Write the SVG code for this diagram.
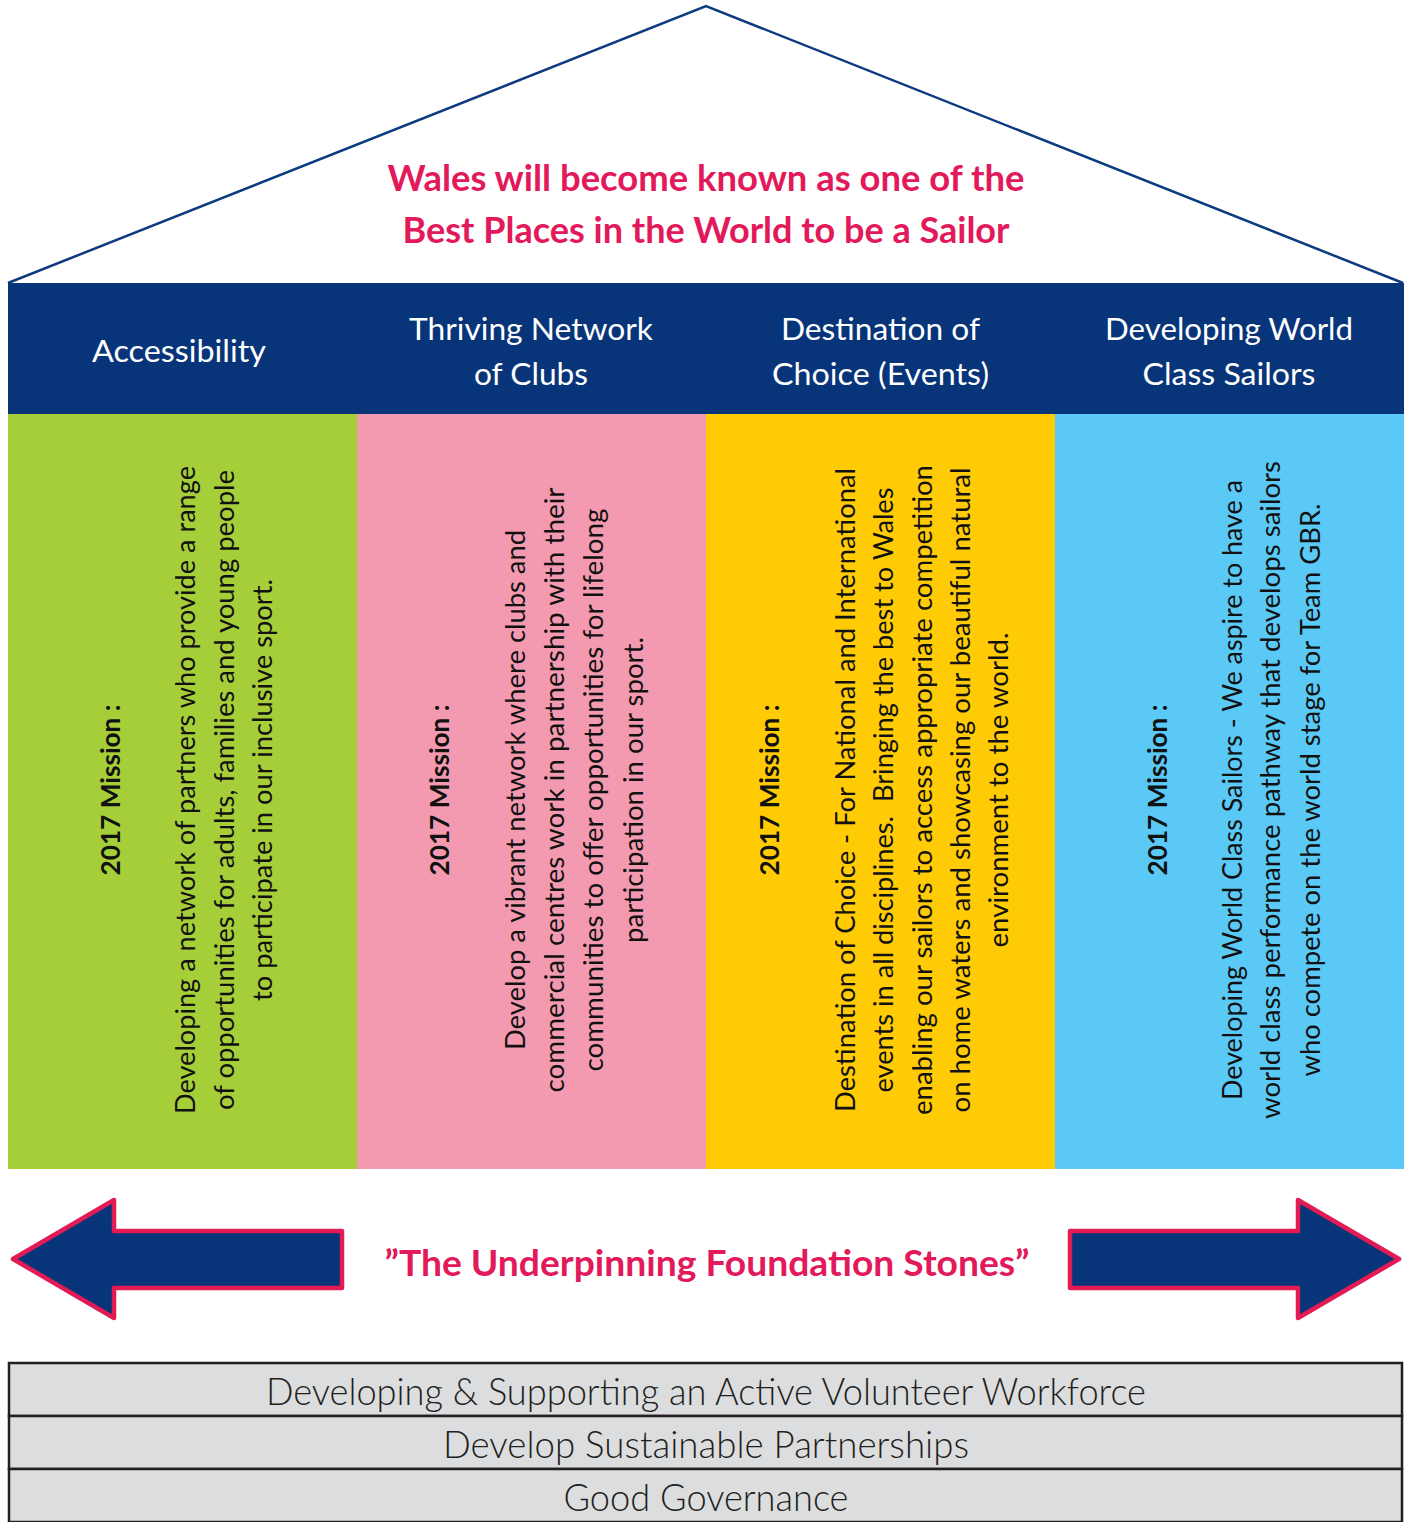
<svg xmlns="http://www.w3.org/2000/svg" width="1407" height="1522" viewBox="0 0 1407 1522">
<style>
.title{font-family:Lato,"Liberation Sans",sans-serif;font-weight:700;fill:#E2195A;text-anchor:middle}
.head{font-family:Lato,"Liberation Sans",sans-serif;font-size:31px;fill:#FFFFFF;text-anchor:middle}
.body{font-family:Lato,"Liberation Sans",sans-serif;font-size:27px;fill:#111111;text-anchor:middle}
.mis{font-family:Lato,"Liberation Sans",sans-serif;font-size:26px;font-weight:700;fill:#111111;text-anchor:middle}
.found{font-family:Lato,"Liberation Sans",sans-serif;font-size:37px;font-weight:300;fill:#231F20;text-anchor:middle}
.bar{fill:#DCDDDF;stroke:#231F20;stroke-width:2.5}
.arrow{fill:#08357A;stroke:#E31B54;stroke-width:4.5;stroke-linejoin:round}
</style>
<rect width="1407" height="1522" fill="#FFFFFF"/>
<g id="roof">
<polyline points="8,283 706,6 1403,283" fill="none" stroke="#0B3A80" stroke-width="2.5"/>
<text class="title" x="706" y="191" font-size="36" textLength="637" lengthAdjust="spacingAndGlyphs">Wales will become known as one of the</text>
<text class="title" x="706" y="243" font-size="36" textLength="607" lengthAdjust="spacingAndGlyphs">Best Places in the World to be a Sailor</text>
</g>
<g id="header">
<rect x="8" y="283" width="1396" height="131" fill="#08357A"/>
<text class="head" x="179" y="362" textLength="174" lengthAdjust="spacingAndGlyphs">Accessibility</text>
<text class="head" x="531" y="340" textLength="244" lengthAdjust="spacingAndGlyphs">Thriving Network</text>
<text class="head" x="531" y="385" textLength="114" lengthAdjust="spacingAndGlyphs">of Clubs</text>
<text class="head" x="880.5" y="340" textLength="199" lengthAdjust="spacingAndGlyphs">Destination of</text>
<text class="head" x="880.5" y="385" textLength="217" lengthAdjust="spacingAndGlyphs">Choice (Events)</text>
<text class="head" x="1229" y="340" textLength="248" lengthAdjust="spacingAndGlyphs">Developing World</text>
<text class="head" x="1229" y="385" textLength="173" lengthAdjust="spacingAndGlyphs">Class Sailors</text>
</g>
<g id="col-accessibility">
<rect x="8" y="414" width="349" height="755" fill="#A6CE39"/>
<g transform="translate(0,790) rotate(-90)">
<text class="mis" x="0" y="120" textLength="171" lengthAdjust="spacingAndGlyphs">2017 Mission :</text>
<text class="body" x="0" y="195" textLength="648" lengthAdjust="spacingAndGlyphs">Developing a network of partners who provide a range</text>
<text class="body" x="0" y="234" textLength="640" lengthAdjust="spacingAndGlyphs">of opportunities for adults, families and young people</text>
<text class="body" x="0" y="272" textLength="422" lengthAdjust="spacingAndGlyphs">to participate in our inclusive sport.</text>
</g>
</g>
<g id="col-clubs">
<rect x="357" y="414" width="349" height="755" fill="#F49AB0"/>
<g transform="translate(0,790) rotate(-90)">
<text class="mis" x="0" y="449" textLength="171" lengthAdjust="spacingAndGlyphs">2017 Mission :</text>
<text class="body" x="0" y="525" textLength="520" lengthAdjust="spacingAndGlyphs">Develop a vibrant network where clubs and</text>
<text class="body" x="0" y="564" textLength="605" lengthAdjust="spacingAndGlyphs">commercial centres work in partnership with their</text>
<text class="body" x="0" y="603" textLength="563" lengthAdjust="spacingAndGlyphs">communities to offer opportunities for lifelong</text>
<text class="body" x="0" y="643" textLength="306" lengthAdjust="spacingAndGlyphs">participation in our sport.</text>
</g>
</g>
<g id="col-events">
<rect x="706" y="414" width="349" height="755" fill="#FFCB05"/>
<g transform="translate(0,790) rotate(-90)">
<text class="mis" x="0" y="779" textLength="171" lengthAdjust="spacingAndGlyphs">2017 Mission :</text>
<text class="body" x="0" y="855" textLength="644" lengthAdjust="spacingAndGlyphs">Destination of Choice - For National and International</text>
<text class="body" x="0" y="893" textLength="605" lengthAdjust="spacingAndGlyphs" xml:space="preserve">events in all disciplines.  Bringing the best to Wales</text>
<text class="body" x="0" y="932" textLength="650" lengthAdjust="spacingAndGlyphs">enabling our sailors to access appropriate competition</text>
<text class="body" x="0" y="970" textLength="645" lengthAdjust="spacingAndGlyphs">on home waters and showcasing our beautiful natural</text>
<text class="body" x="0" y="1008" textLength="315" lengthAdjust="spacingAndGlyphs">environment to the world.</text>
</g>
</g>
<g id="col-sailors">
<rect x="1055" y="414" width="349" height="755" fill="#5BC9F5"/>
<g transform="translate(0,790) rotate(-90)">
<text class="mis" x="0" y="1167" textLength="171" lengthAdjust="spacingAndGlyphs">2017 Mission :</text>
<text class="body" x="0" y="1242" textLength="620" lengthAdjust="spacingAndGlyphs">Developing World Class Sailors - We aspire to have a</text>
<text class="body" x="0" y="1280" textLength="658" lengthAdjust="spacingAndGlyphs">world class performance pathway that develops sailors</text>
<text class="body" x="0" y="1320" textLength="573" lengthAdjust="spacingAndGlyphs">who compete on the world stage for Team GBR.</text>
</g>
</g>
<g id="connectors">
<polygon class="arrow" points="13,1259 114,1200 114,1231 342,1231 342,1288 114,1288 114,1318"/>
<polygon class="arrow" points="1399,1259 1298,1200 1298,1231 1070,1231 1070,1288 1298,1288 1298,1318"/>
</g>
<g id="foundation-label">
<text class="title" x="707" y="1276" font-size="37" textLength="645" lengthAdjust="spacingAndGlyphs">”The Underpinning Foundation Stones”</text>
</g>
<g id="bar-volunteer">
<rect class="bar" x="9" y="1363" width="1393" height="53"/>
<text class="found" x="706" y="1405" textLength="880" lengthAdjust="spacingAndGlyphs">Developing &amp; Supporting an Active Volunteer Workforce</text>
</g>
<g id="bar-partnerships">
<rect class="bar" x="9" y="1416" width="1393" height="53"/>
<text class="found" x="706" y="1458" textLength="526" lengthAdjust="spacingAndGlyphs">Develop Sustainable Partnerships</text>
</g>
<g id="bar-governance">
<rect class="bar" x="9" y="1469" width="1393" height="53"/>
<text class="found" x="706" y="1511" textLength="285" lengthAdjust="spacingAndGlyphs">Good Governance</text>
</g>
</svg>
